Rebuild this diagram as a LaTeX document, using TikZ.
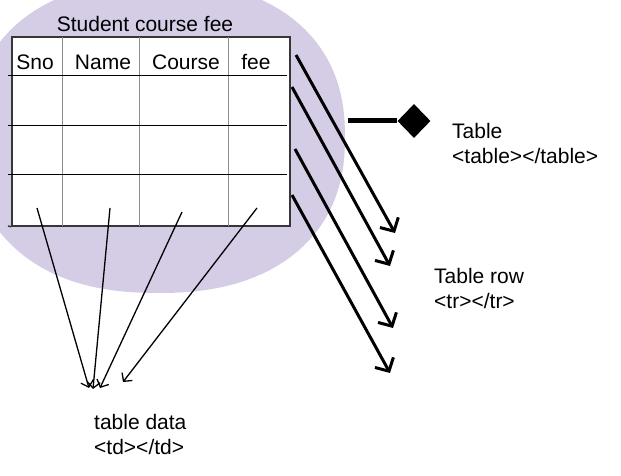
\documentclass[tikz,border=0pt]{standalone}
\usepackage{fontspec}
\setmainfont{Liberation Sans}
\usetikzlibrary{shapes.geometric, arrows.meta, positioning}

\definecolor{lavender}{RGB}{213,205,230}
\definecolor{gridgray}{RGB}{140,140,140}
\definecolor{framegray}{RGB}{55,55,55}

\begin{document}
\begin{tikzpicture}[
  x=1pt, y=1pt,
    every node/.style={font=\fontsize{21}{25}\selectfont, inner sep=0pt},
    heading/.style={anchor=center},
    caption/.style={align=left, anchor=west},
    frame/.style={rectangle, draw=framegray, line width=1.5pt, minimum width=278pt, minimum height=189pt},
    marker/.style={diamond, fill=black, minimum width=33pt, minimum height=34pt},
    rowline/.style={line width=1pt},
    colline/.style={line width=0.8pt, draw=gridgray},
    rowarrow/.style={line width=3pt, -{Straight Barb[length=10pt,width=21pt]}},
    dataarrow/.style={line width=1.3pt, -{Straight Barb[length=6pt,width=13pt]}}
]
\useasboundingbox (0,0) rectangle (621,476);

% Background blob (rounded superellipse)
\fill[lavender] plot[domain=1:361, samples=120, variable=\t]
  ({158 + 187*sign(cos(\t))*abs(cos(\t))^0.87}, {339 + 156*sign(sin(\t))*abs(sin(\t))^0.87}) -- cycle;

% Table
\node (title) [heading] at (145,452) {Student course fee};
\node (tableframe) [frame, fill=white] at (151,344.5) {};
\foreach \cx in {62,139,228}
  \draw[colline] (\cx,439) -- (\cx,250);
\foreach \ry in {400,350,301}
  \draw[rowline] (8,\ry) -- (287,\ry);
\draw[framegray, line width=1.5pt] (8,250) -- (tableframe.south west);
\node (sno) [heading] at (35,414) {Sno};
\node (name) [heading] at (103,414) {Name};
\node (course) [heading] at (186,414) {Course};
\node (fee) [heading] at (256,414) {fee};

% Table marker
\node (tablemark) [marker] at (414,355) {};
\coordinate (barstart) at (348,355);
\draw[line width=5pt] (barstart) -- (tablemark);
\node (tablelabel) [caption] at (452,332) {Table\\<table></table>};

% Row arrows
\foreach \sx/\sy/\ex/\ey [count=\i] in {296/421/395/243, 292/389/390/210, 295/327/393/148, 292/281/390/103} {
  \coordinate (rowfrom\i) at (\sx,\sy);
  \coordinate (rowto\i) at (\ex,\ey);
  \draw[rowarrow] (rowfrom\i) -- (rowto\i);
}
\node (rowlabel) [caption] at (434,188) {Table row\\<tr></tr>};

% Data arrows
\foreach \sx/\sy/\ex/\ey [count=\i] in {37/268/89/88, 110/268/93/87, 182/264/100/88, 257/268/123/94} {
  \coordinate (datafrom\i) at (\sx,\sy);
  \coordinate (datato\i) at (\ex,\ey);
  \draw[dataarrow] (datafrom\i) -- (datato\i);
}
\node (datalabel) [caption] at (94,42) {table data\\<td></td>};

\end{tikzpicture}
\end{document}
